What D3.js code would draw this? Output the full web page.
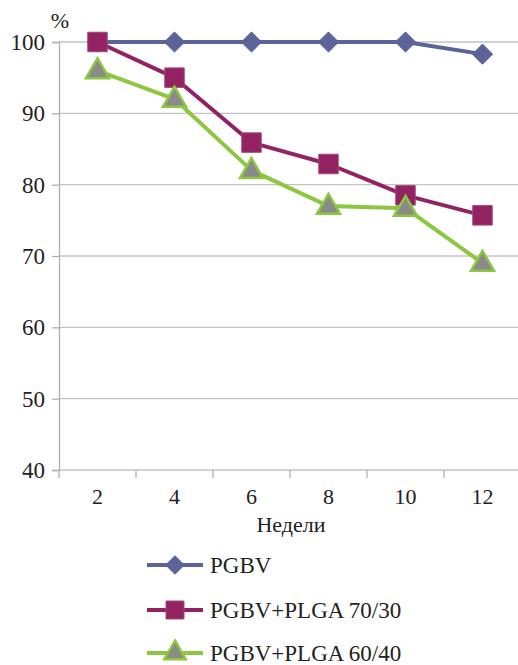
<!DOCTYPE html>
<html><head><meta charset="utf-8">
<script src="https://cdn.jsdelivr.net/npm/d3@7/dist/d3.min.js"></script>
<style>
body{margin:0;background:#fff}
svg{display:block}
#c text{font-family:"Liberation Serif" !important;}
</style>
</head><body>
<svg id="c" width="518" height="665"></svg>
<script>
const weeks = ["2","4","6","8","10","12"];
const pgbv = [100,100,100,100,100,98.3];
const plga7030 = [100,95,85.9,82.9,78.5,75.7];
const plga6040 = [96,92,82,77,76.7,69];
const yTicks = [40,50,60,70,80,90,100];
const seriesNames = ["PGBV","PGBV+PLGA 70/30","PGBV+PLGA 60/40"];

const svg = d3.select("#c");
const fontName = "Liberation Serif";
const pL = 59, pR = 521, pT = 42, pB = 470;
const x = d3.scaleBand().domain(weeks).range([pL, pR]);
const y = d3.scaleLinear().domain([40,100]).range([pB, pT]);

function serif(sel, size) {
  sel.style("font-family", fontName, "important").style("font-size", size + "px", "important");
}

svg.append("g").selectAll("line").data(yTicks).join("line")
  .attr("x1", pL).attr("x2", 518).attr("y1", d=>y(d)).attr("y2", d=>y(d))
  .attr("stroke", "#c3c3c3").attr("stroke-width", 1.3);

const ya = svg.append("g").attr("transform",`translate(${pL},0)`)
  .call(d3.axisLeft(y).tickValues(yTicks).tickSize(7).tickPadding(6));
ya.select(".domain").attr("stroke","#b0b0b0").attr("stroke-width",1.3);
ya.selectAll(".tick line").attr("stroke","#b0b0b0").attr("stroke-width",1.3);
ya.selectAll("text").attr("fill","#222").attr("dx",-1).call(serif, 23);

const xa = svg.append("g").attr("transform",`translate(0,${pB})`)
  .call(d3.axisBottom(x).tickSize(0).tickPadding(18));
xa.select(".domain").remove();
xa.selectAll("text").attr("fill","#222").call(serif, 22);
svg.append("g").selectAll("line").data(weeks).join("line")
  .attr("x1", d=>x(d)).attr("x2", d=>x(d)).attr("y1", pB).attr("y2", pB+8)
  .attr("stroke","#b0b0b0").attr("stroke-width",1.3);

svg.append("text").attr("x", 291).attr("y", 532).attr("text-anchor","middle")
  .attr("fill","#222").text("Недели").call(serif, 22);
svg.append("text").attr("x", 60).attr("y", 28).attr("text-anchor","middle")
  .attr("fill","#222").text("%").call(serif, 22);

const cx = d => x(d) + x.bandwidth()/2;
const styles = [
  {vals: pgbv, line:"#5b6399", sym:d3.symbolDiamond2, size:260, fill:"#5b6399", stroke:"#5b6399", sw:1},
  {vals: plga7030, line:"#922262", sym:d3.symbolSquare, size:380, fill:"#922262", stroke:"#a04a7a", sw:1},
  {vals: plga6040, line:"#8dc63f", sym:d3.symbolTriangle, size:230, fill:"#8a8a8a", stroke:"#8dc63f", sw:2.5}
];
const line = d3.line().x(d=>cx(d.w)).y(d=>y(d.v));
styles.forEach(s => {
  const pts = weeks.map((w,i)=>({w, v:s.vals[i]}));
  svg.append("path").datum(pts).attr("d", line).attr("fill","none")
    .attr("stroke", s.line).attr("stroke-width", 4).attr("stroke-linejoin","round");
});
styles.forEach(s => {
  const pts = weeks.map((w,i)=>({w, v:s.vals[i]}));
  svg.append("g").selectAll("path").data(pts).join("path")
    .attr("transform", d=>`translate(${cx(d.w)},${y(d.v) + (s.sym===d3.symbolTriangle?1:0)})`)
    .attr("d", d3.symbol().type(s.sym).size(s.size))
    .attr("fill", s.fill).attr("stroke", s.stroke).attr("stroke-width", s.sw);
});

const ly = [565, 610, 653];
styles.forEach((s,i) => {
  const g = svg.append("g");
  g.append("line").attr("x1",147).attr("x2",203).attr("y1",ly[i]).attr("y2",ly[i])
    .attr("stroke", s.line).attr("stroke-width",4);
  g.append("path").attr("transform",`translate(175,${ly[i]})`)
    .attr("d", d3.symbol().type(s.sym).size(s.size*0.85))
    .attr("fill", s.fill).attr("stroke", s.stroke).attr("stroke-width", s.sw);
  g.append("text").attr("x",210).attr("y",ly[i]+8)
    .attr("fill","#222").text(seriesNames[i]).call(serif, 23);
});
</script>
</body></html>
